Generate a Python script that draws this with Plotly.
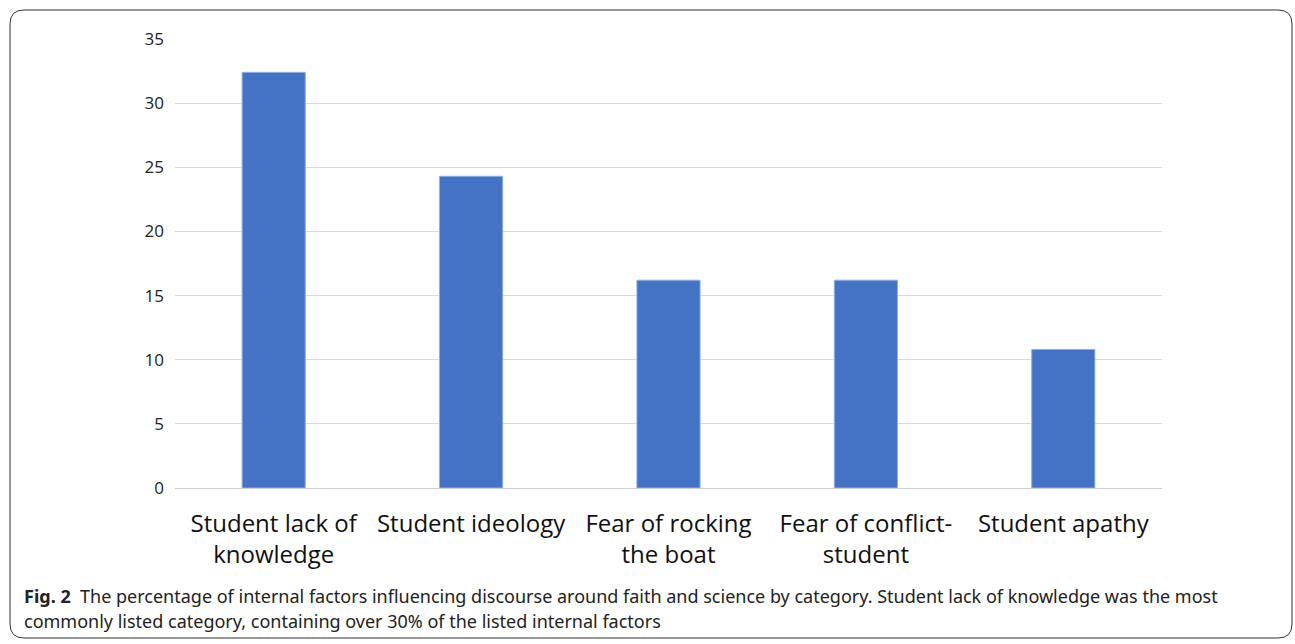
import plotly.graph_objects as go

categories = ["Student lack of<br>knowledge", "Student ideology", "Fear of rocking<br>the boat",
              "Fear of conflict-<br>student", "Student apathy"]
values = [32.4, 24.3, 16.2, 16.2, 10.8]
y_ticks = [0, 5, 10, 15, 20, 25, 30, 35]

W, H = 1295, 644
L, R, T, B = 175, 133, 39, 156
pw, ph = W - L - R, H - T - B

def px(x):
    return (x - L) / pw

def py(y):
    return (H - B - y) / ph

fig = go.Figure()
fig.add_trace(go.Bar(x=categories, y=values, width=0.32,
                     marker=dict(color="#4472c4", line=dict(color="#8fb0e6", width=1))))

fig.update_layout(
    width=W, height=H,
    margin=dict(l=L, r=R, t=T, b=B),
    plot_bgcolor="white", paper_bgcolor="white",
    showlegend=False,
    font=dict(family="Open Sans", color="#222"),
    bargap=0.68,
)
fig.update_xaxes(tickfont=dict(size=24, color="#111"), showline=True, linecolor="#d0d0d0",
                 linewidth=1, ticks="", showgrid=False, ticklabelstandoff=14)
fig.update_yaxes(range=[0, 35], tickvals=y_ticks, tickfont=dict(size=17, color="#222"),
                 showgrid=True, gridcolor="#d9d9d9", gridwidth=1, zeroline=False,
                 ticklabelstandoff=10)

# rounded border
x0, x1, y0, y1, r = 10, 1292, 10, 638, 14
def P(x, y):
    return f"{px(x):.5f},{py(y):.5f}"
path = (f"M {P(x0 + r, y0)} L {P(x1 - r, y0)} Q {P(x1, y0)} {P(x1, y0 + r)} "
        f"L {P(x1, y1 - r)} Q {P(x1, y1)} {P(x1 - r, y1)} "
        f"L {P(x0 + r, y1)} Q {P(x0, y1)} {P(x0, y1 - r)} "
        f"L {P(x0, y0 + r)} Q {P(x0, y0)} {P(x0 + r, y0)} Z")
fig.add_shape(type="path", path=path, xref="paper", yref="paper",
              line=dict(color="#333", width=1))

fig.add_annotation(x=px(22), y=py(596), xref="paper", yref="paper", xanchor="left",
                   yanchor="middle", showarrow=False, align="left",
                   text="<b>Fig. 2</b>  The percentage of internal factors influencing discourse around faith and science by category. Student lack of knowledge was the most",
                   font=dict(family="Noto Sans", size=18, color="#222"))
fig.add_annotation(x=px(22), y=py(621), xref="paper", yref="paper", xanchor="left",
                   yanchor="middle", showarrow=False, align="left",
                   text="commonly listed category, containing over 30% of the listed internal factors",
                   font=dict(family="Noto Sans", size=18, color="#222"))

fig.write_html("out.html", config={"displayModeBar": False},
               post_script="document.body.style.margin='0';")
